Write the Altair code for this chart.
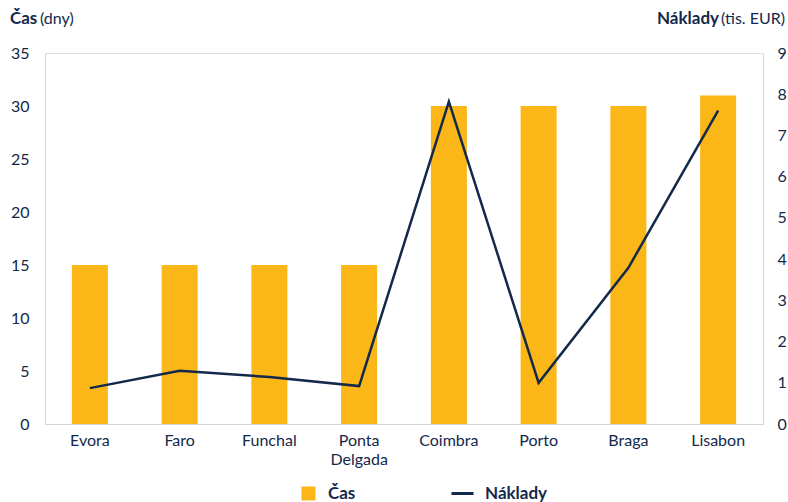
import altair as alt
import pandas as pd

cities = ["Evora", "Faro", "Funchal", "Ponta Delgada", "Coimbra", "Porto", "Braga", "Lisabon"]
cas = [15, 15, 15, 15, 30, 30, 30, 31]
naklady = [0.87, 1.29, 1.14, 0.92, 7.82, 1.0, 3.79, 7.6]

NAVY = "#13294b"
GOLD = "#fbb617"
GRAY = "#d4d4d4"
FONT = "Lato"

df = pd.DataFrame({"city": cities, "cas": cas, "naklady": naklady,
                   "s1": ["Čas"] * len(cities), "s2": ["Náklady"] * len(cities)})

x = alt.X("city:N", sort=cities, title=None,
          scale=alt.Scale(paddingInner=0, paddingOuter=0),
          axis=alt.Axis(labelAngle=0, ticks=False, domainColor=GRAY, labelColor=NAVY,
                        labelFont=FONT, labelFontSize=16, labelPadding=8, labelLineHeight=19,
                        labelExpr="datum.label == 'Ponta Delgada' ? ['Ponta', 'Delgada'] : datum.label"))

bars = alt.Chart(df).mark_bar(size=36).encode(
    x=x,
    y=alt.Y("cas:Q", title=None,
            scale=alt.Scale(domain=[0, 35], nice=False),
            axis=alt.Axis(values=list(range(0, 36, 5)), grid=False, ticks=False,
                          domainColor=GRAY, labelColor=NAVY, labelFont=FONT,
                          labelFontSize=16, labelPadding=16)),
    color=alt.Color("s1:N", scale=alt.Scale(domain=["Čas"], range=[GOLD]),
                    legend=alt.Legend(orient="none", legendX=255, legendY=432, title=None,
                                      symbolType="square", symbolSize=196, symbolOpacity=1,
                                      labelFont=FONT, labelFontSize=17, labelFontWeight="bold",
                                      labelColor=NAVY, labelOffset=11)),
)

line = alt.Chart(df).mark_line(strokeWidth=2.5).encode(
    x=x,
    y=alt.Y("naklady:Q", title=None,
            scale=alt.Scale(domain=[0, 9], nice=False),
            axis=alt.Axis(orient="right", values=list(range(0, 10)), grid=False, ticks=False,
                          domainColor=GRAY, labelColor=NAVY, labelFont=FONT,
                          labelFontSize=16, labelPadding=14)),
    stroke=alt.Stroke("s2:N", scale=alt.Scale(domain=["Náklady"], range=[NAVY]),
                      legend=alt.Legend(orient="none", legendX=405, legendY=428, title=None,
                                        symbolType="stroke", symbolSize=484, symbolStrokeWidth=3,
                                        labelFont=FONT, labelFontSize=17, labelFontWeight="bold",
                                        labelColor=NAVY, labelOffset=10)),
)

def label(text, xpos, align, weight, size=16):
    return alt.Chart(pd.DataFrame({"t": [text]})).mark_text(
        align=align, baseline="middle", font=FONT, fontSize=size, fontWeight=weight, color=NAVY
    ).encode(text="t:N", x=alt.value(xpos), y=alt.value(-34))

titles = (label("Čas", -35, "left", "bold", 17) + label("(dny)", -5, "left", "normal")
          + label("Náklady", 674, "right", "bold", 17) + label("(tis. EUR)", 740, "right", "normal"))

chart = alt.layer(bars, line, titles).resolve_scale(y="independent", color="independent").properties(
    width=718, height=371,
    padding={"left": 45, "top": 53, "right": 25, "bottom": 78},
    autosize=alt.AutoSizeParams(type="none"),
).configure_view(stroke=None).configure(background="white")

chart.save("out.html", embed_options={"renderer": "svg", "actions": False})
